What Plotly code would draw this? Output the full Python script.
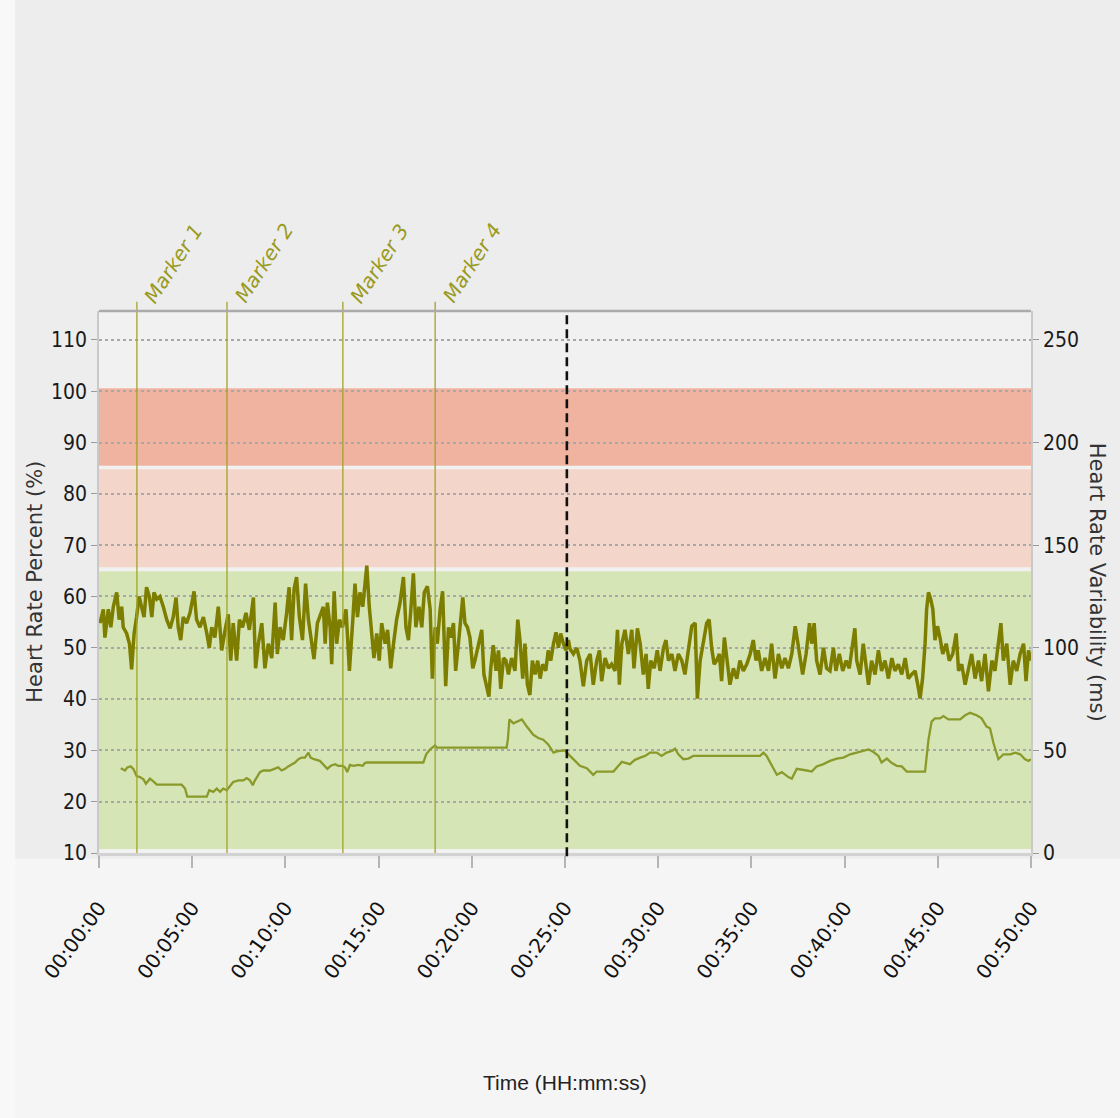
import pandas as pd
import plotly.graph_objects as go

# ---------------- data ----------------
# Heart rate percent (%), time in seconds from start
hr_t = [3, 14, 19, 30, 38, 46, 57, 65, 73, 78, 89, 98, 105, 113, 121, 129, 137, 145, 153, 162,
        170, 177, 186, 196, 207, 218, 229, 239, 248, 255, 263, 271, 282, 293, 306, 314, 325, 336, 347, 355,
        363, 373, 384, 395, 406, 416, 424, 432, 443, 452, 462, 473, 484, 497, 504, 513, 524, 534, 545, 556,
        567, 574, 583, 593, 604, 612, 620, 628, 636, 645, 655, 665, 674, 681, 692, 703,
        722, 728, 735, 744, 749, 757, 765, 774, 784, 795, 806, 817, 824, 832, 840, 849, 855, 862, 870, 878,
        885, 894, 902, 910, 921, 929, 939, 948, 958, 969, 980, 988, 996, 1003, 1012, 1020, 1030, 1039, 1047, 1057,
        1066, 1073, 1082, 1089, 1098, 1106, 1116, 1125, 1132, 1141, 1148, 1157, 1164, 1171, 1178, 1186, 1194, 1203, 1210, 1221,
        1232, 1239, 1248, 1255, 1261, 1269, 1278, 1286, 1293, 1302, 1310, 1318, 1328, 1339, 1348, 1355, 1364, 1371, 1379, 1387,
        1395, 1404, 1412, 1420, 1428, 1438, 1446, 1454, 1463, 1471, 1479, 1486, 1495, 1503, 1511,
        1516, 1527, 1538, 1548, 1559, 1570, 1581, 1591, 1602, 1611, 1618, 1629, 1640, 1650, 1661, 1669, 1675, 1683, 1693, 1704,
        1715, 1722, 1733, 1742, 1752, 1761, 1768, 1776, 1787, 1797, 1806, 1817, 1825, 1833, 1844, 1854, 1865, 1876, 1886, 1897,
        1908, 1919, 1926, 1935, 1945, 1956, 1964, 1972, 1980, 1988, 1997, 2004, 2013, 2021, 2031, 2042, 2053, 2063, 2074, 2085,
        2096, 2106, 2115, 2122, 2133, 2144, 2155, 2165, 2176, 2187, 2198, 2208, 2219, 2230, 2241, 2248, 2257, 2265, 2276, 2287,
        2294, 2302, 2310, 2321, 2332, 2342, 2353, 2364, 2372, 2383, 2394, 2405, 2415, 2426, 2433, 2439, 2450, 2460, 2469, 2477,
        2487, 2498, 2509, 2519, 2530, 2541, 2552, 2562, 2573, 2584, 2595, 2605, 2616, 2627, 2638, 2643, 2651, 2659, 2664, 2670,
        2677, 2684, 2691, 2699, 2707, 2716, 2727, 2737, 2748, 2759, 2767, 2777, 2788, 2798, 2809, 2820, 2831, 2841, 2852, 2863,
        2874, 2884, 2895, 2903, 2911, 2922, 2933, 2943, 2954, 2965, 2976, 2984, 2992, 3000]
hr_v = [54.8, 57.5, 52.0, 57.5, 54.0, 58.0, 60.8, 55.5, 58.0, 54.0, 52.8, 50.8, 45.8, 52.8, 56.0, 60.0, 58.0, 56.0, 61.8, 60.0,
        56.0, 60.8, 59.5, 60.0, 58.0, 55.5, 53.8, 56.0, 59.8, 54.0, 51.5, 56.0, 54.8, 56.8, 61.0, 55.5, 54.0, 56.0, 52.8, 50.0,
        54.0, 52.0, 58.0, 49.5, 53.5, 56.5, 47.5, 54.8, 47.5, 55.5, 54.0, 56.8, 53.5, 59.8, 46.0, 50.8, 54.8, 46.0, 50.8, 48.0,
        58.8, 48.8, 54.0, 51.5, 56.8, 61.8, 51.5, 61.5, 63.8, 56.0, 51.5, 62.5, 55.5, 52.0, 47.8, 54.8,
        58.0, 50.8, 58.8, 54.0, 46.8, 61.0, 50.8, 55.5, 54.0, 57.5, 45.5, 55.5, 62.5, 56.0, 60.8, 58.0, 62.0, 66.0, 58.0, 53.5,
        48.0, 52.8, 47.5, 54.8, 50.8, 53.5, 46.0, 50.8, 55.5, 58.8, 63.8, 54.0, 51.5, 56.8, 64.5, 54.0, 58.0, 54.0, 60.8, 62.0,
        57.5, 44.0, 54.0, 50.8, 57.5, 61.0, 42.5, 54.0, 52.0, 54.8, 45.5, 50.8, 56.0, 59.8, 54.8, 54.0, 52.0, 46.0, 47.5, 50.8,
        53.5, 44.8, 42.0, 40.5, 46.0, 50.5, 45.5, 49.5, 42.0, 48.0, 47.5, 44.8, 48.0, 45.5, 55.5, 51.5, 44.0, 50.8, 42.8, 40.8,
        47.5, 44.8, 47.5, 44.0, 46.8, 45.5, 49.5, 47.5, 50.8, 53.0, 50.0, 52.8, 50.8, 49.5, 51.5,
        49.8, 48.8, 50.0, 47.5, 42.5, 47.5, 48.8, 42.8, 47.5, 49.5, 43.5, 48.0, 46.0, 46.8, 45.5, 53.5, 42.8, 50.8, 53.5, 48.8,
        53.5, 46.0, 53.8, 50.8, 44.8, 48.8, 42.0, 47.5, 46.0, 49.5, 45.5, 50.0, 51.5, 47.5, 48.8, 45.5, 48.8, 47.5, 44.8, 49.5,
        54.2, 54.8, 40.1, 47.5, 50.8, 54.8, 55.5, 50.0, 46.8, 47.5, 48.8, 43.5, 52.0, 48.0, 42.8, 46.0, 44.0, 47.5, 45.5, 46.8,
        48.8, 51.5, 47.5, 49.5, 45.5, 48.0, 45.5, 50.8, 44.0, 48.8, 46.0, 48.0, 46.0, 48.8, 54.2, 51.5, 47.5, 44.8, 48.8, 54.8,
        50.8, 54.8, 47.5, 44.8, 50.0, 46.0, 45.5, 50.0, 45.5, 48.8, 45.5, 47.5, 46.0, 50.8, 53.8, 47.5, 44.8, 50.8, 46.0, 42.8,
        47.5, 44.8, 49.5, 45.5, 47.5, 44.0, 48.0, 45.5, 46.8, 44.8, 48.0, 44.0, 44.8, 45.5, 42.0, 40.1, 44.0, 50.8, 57.5, 60.8,
        59.5, 57.5, 51.5, 54.2, 52.0, 48.8, 50.8, 47.5, 48.8, 52.8, 45.5, 46.8, 42.8, 46.0, 48.8, 44.0, 47.5, 43.5, 48.8, 41.5,
        47.5, 45.5, 50.8, 54.8, 47.5, 50.8, 42.8, 47.5, 45.5, 48.8, 50.8, 43.5, 49.5, 47.5]

# Heart rate variability (ms), time in seconds from start
hrv_t = [70, 84, 91, 102, 111, 121, 132, 143, 151, 164, 175, 186, 196, 266, 277, 284, 347, 355, 368, 379,
         390, 400, 411, 422, 432, 449, 465, 475, 486, 495, 502, 518, 529, 550, 567, 577, 588, 599, 609, 620,
         631, 642, 652, 663, 674, 681, 692, 711, 722, 735, 746, 760, 770, 784, 792, 799, 808, 819, 835, 849,
         856, 862, 1044, 1053, 1066, 1082, 1087, 1312, 1316, 1321, 1334, 1344, 1361, 1377, 1398, 1414, 1430, 1446, 1463, 1479,
         1500, 1506, 1522, 1548, 1570, 1591, 1602, 1656, 1672, 1683, 1709, 1725, 1742, 1758, 1774, 1795, 1811, 1827, 1844, 1854,
         1865, 1881, 1897, 1913, 2128, 2139, 2149, 2165, 2182, 2198, 2219, 2230, 2246, 2278, 2294, 2310, 2332, 2353, 2375, 2396,
         2418, 2439, 2460, 2477, 2493, 2509, 2519, 2536, 2552, 2568, 2584, 2600, 2659, 2670, 2680, 2691, 2707, 2718, 2734, 2772,
         2788, 2804, 2825, 2841, 2857, 2868, 2879, 2895, 2911, 2933, 2949, 2965, 2981, 2992, 3000]
hrv_v = [41.3, 40.2, 41.7, 42.2, 40.9, 37.5, 37.0, 35.9, 33.8, 36.2, 34.9, 33.3, 33.3, 33.3, 31.4, 27.5, 27.5, 30.6, 29.8, 31.4,
         29.8, 31.4, 30.6, 33.0, 34.6, 35.4, 35.4, 36.5, 35.4, 33.0, 35.4, 39.4, 40.2, 40.2, 41.0, 41.7, 40.2, 41.0, 42.2, 43.3,
         44.1, 45.7, 46.5, 46.5, 48.9, 46.5, 45.7, 44.9, 43.3, 41.0, 42.5, 43.3, 42.5, 42.5, 41.7, 39.4, 42.9, 42.5, 42.9, 42.5,
         43.8, 44.1, 44.1, 48.1, 50.5, 52.4, 51.3, 51.3, 55.2, 65.1, 63.2, 64.0, 65.1, 61.6, 57.6, 56.0, 55.2, 52.9, 48.9, 49.7,
         50.0, 48.9, 46.5, 42.5, 41.3, 38.1, 39.7, 39.7, 42.5, 44.4, 43.3, 45.4, 46.5, 47.3, 48.9, 48.9, 47.3, 48.9, 49.7, 50.8,
         48.1, 45.7, 46.0, 47.3, 47.3, 48.9, 47.3, 42.5, 38.1, 39.4, 37.0, 36.2, 41.0, 40.2, 39.7, 42.2, 43.3, 44.9, 46.0, 46.5,
         48.1, 48.9, 49.7, 50.5, 49.2, 47.3, 44.1, 46.0, 43.8, 42.5, 42.2, 39.7, 39.7, 55.2, 64.0, 65.6, 65.6, 66.7, 65.1, 65.1,
         67.1, 68.3, 67.1, 65.6, 61.6, 60.8, 53.7, 45.7, 48.1, 48.1, 48.9, 48.1, 45.7, 44.9, 45.7]

marker_names = ["Marker 1", "Marker 2", "Marker 3", "Marker 4"]
marker_t = [122, 412, 785, 1082]
cursor_t = 1506

band_low = [10.8, 65.7, 85.5]
band_high = [64.9, 84.8, 100.6]
band_colors = ["#d6e5b5", "#f4d5c9", "#f0b39f"]

x_tick_s = [0, 300, 600, 900, 1200, 1500, 1800, 2100, 2400, 2700, 3000]
y_ticks = [10, 20, 30, 40, 50, 60, 70, 80, 90, 100, 110]
y2_ticks = [0, 50, 100, 150, 200, 250]
y_range = [10, 115.65]
y2_range = [0, 264.1]
x_end = 3000


def ts(s):
    return pd.to_datetime(s, unit="s").strftime("%Y-%m-%d %H:%M:%S")


def ts_list(vals):
    return [ts(v) for v in vals]


NARROW = "Liberation Sans Narrow, DejaVu Sans Condensed, Arial Narrow, sans-serif"
OLIVE = "#7d7d00"

fig = go.Figure()

fig.add_trace(go.Scatter(
    x=ts_list(hrv_t), y=hrv_v, yaxis="y2", mode="lines",
    line=dict(color="#8a9a2a", width=2.3, shape="linear"),
    hoverinfo="skip", showlegend=False, name="HRV"))

fig.add_trace(go.Scatter(
    x=ts_list(hr_t), y=hr_v, mode="lines",
    line=dict(color=OLIVE, width=3.5),
    hoverinfo="skip", showlegend=False, name="HR %"))

shapes = []
# page background tint below plot
shapes.append(dict(type="rect", xref="paper", yref="paper", x0=-0.2, x1=1.2, y0=-0.6, y1=-0.01,
                   fillcolor="#f5f5f5", line=dict(width=0), layer="below"))
shapes.append(dict(type="rect", xref="paper", yref="paper", x0=-0.2, x1=-0.09, y0=-0.6, y1=1.7,
                   fillcolor="#f8f8f8", line=dict(width=0), layer="below"))

for lo, hi, col in zip(band_low, band_high, band_colors):
    shapes.append(dict(type="rect", xref="x", yref="y", x0=ts(0), x1=ts(x_end), y0=lo, y1=hi,
                       fillcolor=col, line=dict(width=0), layer="below"))

for mt in marker_t:
    shapes.append(dict(type="line", xref="x", yref="paper", x0=ts(mt), x1=ts(mt), y0=0, y1=1.017,
                       line=dict(color="#a3a32a", width=1.3), layer="above"))

shapes.append(dict(type="line", xref="x", yref="paper", x0=ts(cursor_t), x1=ts(cursor_t), y0=-0.006, y1=1.0,
                   line=dict(color="#111111", width=2.6, dash="9px,5px"), layer="above"))

annotations = []
for name, mt in zip(marker_names, marker_t):
    annotations.append(dict(text=name, xref="x", yref="paper", x=ts(mt), y=1.002,
                            xanchor="left", yanchor="bottom", showarrow=False, textangle=-57,
                            font=dict(family="DejaVu Sans", size=20, color="#9a9a1e", style="italic")))

annotations.append(dict(text="Heart Rate Percent (%)", xref="paper", yref="paper", x=-0.069, y=0.5,
                        xanchor="center", yanchor="middle", showarrow=False, textangle=-90,
                        font=dict(family="DejaVu Sans", size=21, color="#333333")))
annotations.append(dict(text="Heart Rate Variability (ms)", xref="paper", yref="paper", x=1.071, y=0.5,
                        xanchor="center", yanchor="middle", showarrow=False, textangle=90,
                        font=dict(family="DejaVu Sans", size=21, color="#333333")))
annotations.append(dict(text="Time (HH:mm:ss)", xref="paper", yref="paper", x=0.5, y=-0.424,
                        xanchor="center", yanchor="middle", showarrow=False,
                        font=dict(family="Liberation Sans, sans-serif", size=21, color="#222222")))

fig.update_layout(
    width=1120, height=1118, autosize=False,
    margin=dict(l=99, r=89, t=311, b=265, pad=0),
    paper_bgcolor="#ededed", plot_bgcolor="#f1f1f1",
    shapes=shapes, annotations=annotations,
    showlegend=False,
    xaxis=dict(
        type="date", range=[ts(0), ts(x_end)],
        tickvals=ts_list(x_tick_s), tickformat="%H:%M:%S", tickangle=-54,
        ticks="outside", ticklen=12, tickcolor="#b5b5b5", tickwidth=1.5,
        ticklabelstandoff=20,
        tickfont=dict(family="DejaVu Sans", size=20, color="#111111"),
        showgrid=False, zeroline=False,
        showline=True, linecolor="#d2d2d2", linewidth=3, mirror=False,
    ),
    yaxis=dict(
        range=y_range, tickvals=y_ticks, ticks="outside", ticklen=6, tickcolor="#9a9a9a",
        tickfont=dict(family=NARROW, size=21, color="#1a1a1a"),
        showgrid=True, gridcolor="#a8a8a8", gridwidth=1.6, griddash="dot",
        zeroline=False, showline=True, linecolor="#c9c9c9", linewidth=1.5, mirror=False,
    ),
    yaxis2=dict(
        range=y2_range, tickvals=y2_ticks, overlaying="y", side="right",
        ticks="outside", ticklen=6, tickcolor="#9a9a9a",
        tickfont=dict(family=NARROW, size=21, color="#1a1a1a"),
        showgrid=False, zeroline=False, showline=True, linecolor="#c9c9c9", linewidth=1.5,
    ),
)

# top frame line of plot area
fig.add_shape(type="line", xref="paper", yref="paper", x0=0, x1=1, y0=1, y1=1,
              line=dict(color="#ababab", width=2.5), layer="above")

fig.write_html("out.html")
